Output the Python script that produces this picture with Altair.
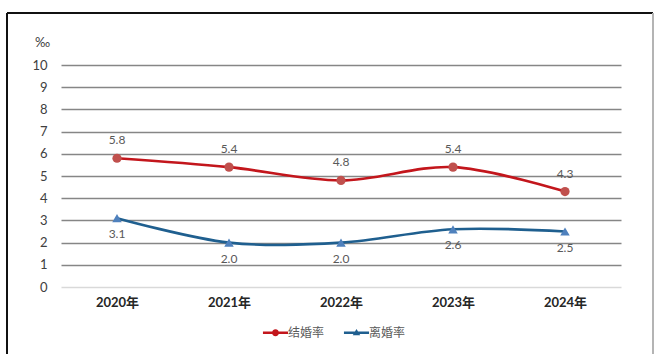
import altair as alt
import pandas as pd

years = ["2020年", "2021年", "2022年", "2023年", "2024年"]
marriage = [5.8, 5.4, 4.8, 5.4, 4.3]
divorce = [3.1, 2.0, 2.0, 2.6, 2.5]
series_names = ["结婚率", "离婚率"]

rows = []
for y, m, d in zip(years, marriage, divorce):
    rows.append({"year": y, "series": series_names[0], "value": m, "label": f"{m:.1f}"})
    rows.append({"year": y, "series": series_names[1], "value": d, "label": f"{d:.1f}"})
df = pd.DataFrame(rows)

RED_LINE = "#c3161c"
RED_PT = "#c0504d"
BLUE_LINE = "#1f5f8f"
BLUE_PT = "#4f81bd"
FONT = "Lato, Noto Sans CJK SC"

x = alt.X("year:N", sort=years, scale=alt.Scale(type="point", padding=0.5),
          axis=alt.Axis(title=None, domain=False, ticks=False, labelAngle=0,
                        labelFontSize=13, labelFontWeight="bold", labelColor="#262626",
                        labelPadding=9, labelFont=FONT))
y = alt.Y("value:Q", scale=alt.Scale(domain=[0, 10], nice=False),
          axis=alt.Axis(title="‰", titleAngle=0, titleX=-19, titleY=-23,
                        titleAlign="center", titleBaseline="middle", titleFontSize=13,
                        titleFontWeight="normal", titleColor="#404040", titleFont=FONT,
                        values=list(range(0, 11)), domain=False, ticks=False,
                        labelFontSize=13, labelColor="#404040", labelPadding=14, labelFont=FONT,
                        gridColor=alt.condition("datum.value == 0", alt.value("#d9d9d9"), alt.value("#868686")),
                        gridWidth=1.6))

is_m = alt.datum.series == series_names[0]
base = alt.Chart(df)

lines = base.mark_line(interpolate="catmull-rom", strokeWidth=2.6).encode(
    x=x, y=y, detail="series:N",
    color=alt.condition(is_m, alt.value(RED_LINE), alt.value(BLUE_LINE)),
)
pts_m = base.transform_filter(is_m).mark_point(shape="circle", filled=True, size=85, opacity=1).encode(
    x=x, y=y, color=alt.value(RED_PT))
pts_d = base.transform_filter(alt.datum.series == series_names[1]).mark_point(
    shape="triangle-up", filled=True, size=90, opacity=1).encode(
    x=x, y=y, color=alt.value(BLUE_PT))

lab_m = base.transform_filter(is_m).mark_text(dy=-18, fontSize=12, color="#595959", font=FONT).encode(
    x=x, y=y, text="label:N")
lab_d = base.transform_filter(alt.datum.series == series_names[1]).mark_text(
    dy=16, fontSize=12, color="#595959", font=FONT).encode(x=x, y=y, text="label:N")

path_circle = ("M-1.5,-0.15H1.5V0.15H-1.5Z "
               "M-0.42,0A0.42,0.42 0 1,1 0.42,0A0.42,0.42 0 1,1 -0.42,0Z")
path_tri = ("M-1.5,-0.15H1.5V0.15H-1.5Z "
            "M0,-0.45L0.45,0.3L-0.45,0.3Z")

legend_layer = base.mark_point(filled=True, size=0, opacity=1).encode(
    x=x, y=y,
    color=alt.Color("series:N", scale=alt.Scale(domain=series_names, range=[RED_LINE, BLUE_LINE]),
                    legend=alt.Legend(title=None, orient="none", legendX=206, legendY=259,
                                      direction="horizontal", symbolSize=280, labelFontSize=12,
                                      labelColor="#595959", labelFont=FONT, columnPadding=18,
                                      symbolStrokeWidth=0, labelOffset=4)),
    shape=alt.Shape("series:N", scale=alt.Scale(domain=series_names, range=[path_circle, path_tri])),
)

border_top = alt.Chart(df).mark_rule(color="#111111", strokeWidth=2).encode(
    x=alt.value(-54), x2=alt.value(592), y=alt.value(-52))
border_left = alt.Chart(df).mark_rule(color="#111111", strokeWidth=2).encode(
    x=alt.value(-54), y=alt.value(-52), y2=alt.value(300))
border_right = alt.Chart(df).mark_rule(color="#b5b5b5", strokeWidth=1.5).encode(
    x=alt.value(592), y=alt.value(-52), y2=alt.value(300))

chart = alt.layer(lines, pts_m, pts_d, lab_m, lab_d, legend_layer,
                  border_top, border_left, border_right).properties(
    width=560, height=222,
    padding={"left": 61, "top": 65, "right": 39, "bottom": 67},
    autosize=alt.AutoSizeParams(type="none"),
    background="white",
).configure_view(stroke=None)

chart.save("out.html", embed_options={"renderer": "svg", "actions": False})
